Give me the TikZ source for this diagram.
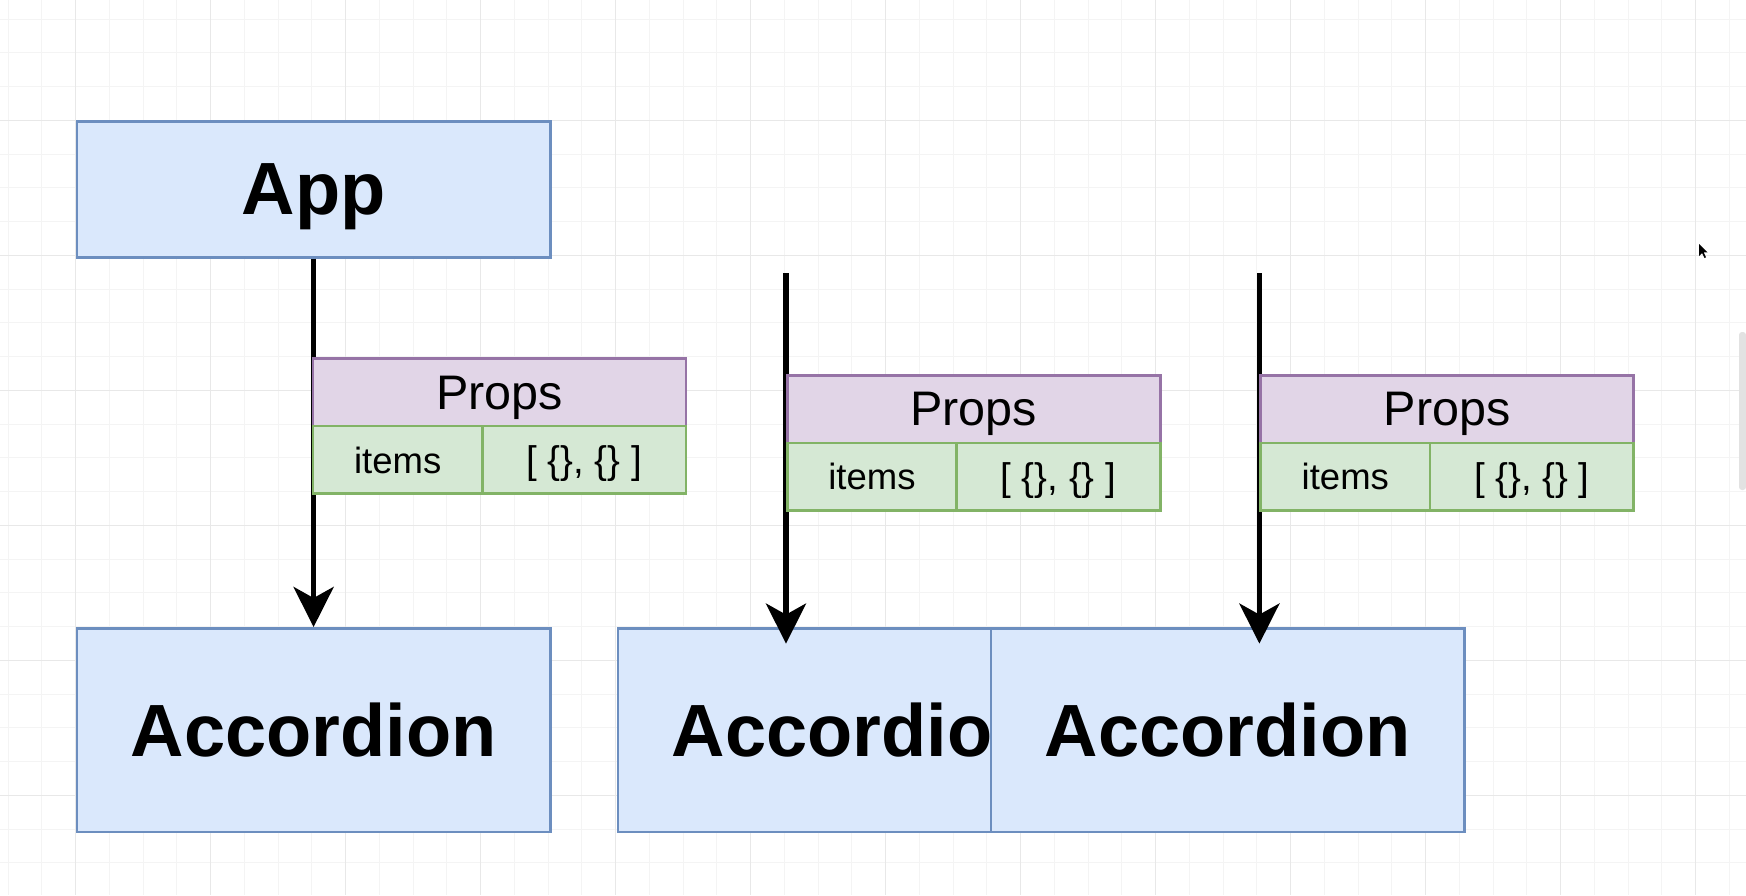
\documentclass[tikz,border=0pt]{standalone}
\usepackage{fontspec}
\setmainfont{Liberation Sans}
\usetikzlibrary{arrows.meta}
\definecolor{compfill}{HTML}{DAE8FC}
\definecolor{compline}{HTML}{6C8EBF}
\definecolor{propfill}{HTML}{E1D5E7}
\definecolor{propline}{HTML}{9673A6}
\definecolor{cellfill}{HTML}{D5E8D4}
\definecolor{cellline}{HTML}{82B366}
\definecolor{gridminor}{HTML}{F4F4F4}
\definecolor{gridmajor}{HTML}{E8E8E8}
\definecolor{scrollbar}{HTML}{E2E2E2}
\tikzset{
  compbox/.style={rectangle, draw=compline, fill=compfill, line width=2.5pt, anchor=north west,
    minimum width=473.3pt, minimum height=203.7pt, inner sep=0pt, text depth=0pt,
    font=\fontsize{74}{80}\selectfont\bfseries},
  propshead/.style={rectangle, draw=propline, fill=propfill, line width=2.5pt, anchor=north west,
    minimum width=373pt, minimum height=67.5pt, inner sep=0pt, text depth=0pt,
    font=\fontsize{48.5}{52}\selectfont},
  keycell/.style={rectangle, draw=cellline, fill=cellfill, line width=2.5pt, anchor=north west,
    minimum width=169.3pt, minimum height=67.5pt, inner sep=0pt, text depth=0pt,
    font=\fontsize{36.5}{40}\selectfont},
  valcell/.style={keycell, minimum width=203.7pt, font=\fontsize{38.5}{42}\selectfont},
  flow/.style={draw=black, line width=5.5pt, -{Stealth[length=40pt, width=40pt, inset=11pt]}}
}
\begin{document}
\begin{tikzpicture}[x=1pt, y=-1pt]
\useasboundingbox (0,0) rectangle (1746,895);
\fill[white] (0,0) rectangle (1746,895);
% grid
\foreach \i in {0,...,52} {
  \draw[gridminor, line width=1pt] ({8.2+33.75*\i},0) -- ({8.2+33.75*\i},895);
}
\foreach \j in {0,...,26} {
  \draw[gridminor, line width=1pt] (0,{19.05+33.75*\j}) -- (1746,{19.05+33.75*\j});
}
\foreach \i in {0,...,13} {
  \draw[gridmajor, line width=1.2pt] ({-59.3+135*\i},0) -- ({-59.3+135*\i},895);
}
\foreach \j in {0,...,7} {
  \draw[gridmajor, line width=1.2pt] (0,{-14.7+135*\j}) -- (1746,{-14.7+135*\j});
}
% scrollbar and cursor
\fill[scrollbar, rounded corners=3pt] (1739,332) rectangle (1746,490);
\fill[black] (1699,244) -- (1699,256) -- (1702,253) -- (1704.5,258) -- (1706,257.3) -- (1703.6,252.4) -- (1707.5,252.4) -- cycle;

% components
\node[compbox, minimum height=135.7pt] (app) at (75.7,120.3) {App};
\node[compbox] (acc1) at (75.7,627) {Accordion};
\node[compbox] (acc2) at (616.9,627) {Accordion};
\node[compbox] (acc3) at (989.9,627) {Accordion};

% connectors
\coordinate (s2) at (786,273);
\coordinate (e2) at (786,643.6);
\coordinate (s3) at (1259.4,273);
\coordinate (e3) at (1259.4,643.6);
\draw[flow] (app.south) -- (acc1.north);
\draw[flow] (s2) -- (e2);
\draw[flow] (s3) -- (e3);

% props tables
\node[propshead] (p1) at (311.8,357.4) {Props};
\node[keycell] (k1) at (311.8,424.9) {items};
\node[valcell] (v1) at (481.1,424.9) {[ \{\}, \{\} ]};

\node[propshead] (p2) at (786,374.1) {Props};
\node[keycell] (k2) at (786,441.6) {items};
\node[valcell] (v2) at (955.3,441.6) {[ \{\}, \{\} ]};

\node[propshead] (p3) at (1259.4,374.1) {Props};
\node[keycell] (k3) at (1259.4,441.6) {items};
\node[valcell] (v3) at (1428.7,441.6) {[ \{\}, \{\} ]};
\end{tikzpicture}
\end{document}
